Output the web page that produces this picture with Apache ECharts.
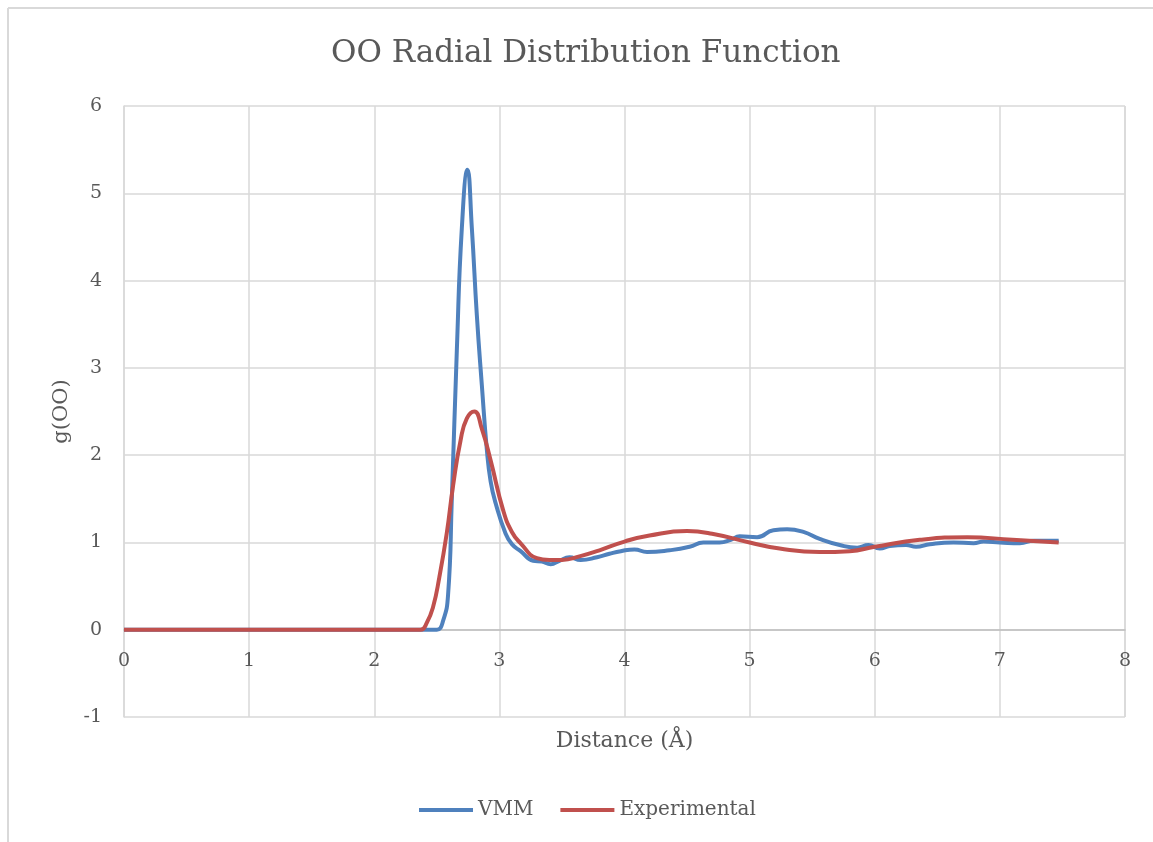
<!DOCTYPE html>
<html>
<head>
<meta charset="utf-8">
<script src="https://cdn.jsdelivr.net/npm/echarts@6/dist/echarts.min.js"></script>
<style>
  html, body { margin: 0; padding: 0; background: #fff; }
  #main { width: 1153px; height: 842px; }
</style>
</head>
<body>
<div id="main"></div>
<script>
// distance (Å) and g(OO)
var vmmX = [0, 1, 2, 2.40, 2.50, 2.55, 2.59, 2.62, 2.66, 2.70, 2.745, 2.78, 2.82, 2.86, 2.90, 2.93, 2.97, 3.05, 3.10, 3.17, 3.27, 3.34, 3.41, 3.48, 3.56, 3.65, 3.78, 3.88, 3.97, 4.08, 4.18, 4.36, 4.52, 4.63, 4.76, 4.85, 4.92, 5.06, 5.19, 5.30, 5.43, 5.56, 5.72, 5.86, 5.95, 6.04, 6.12, 6.25, 6.33, 6.44, 6.63, 6.79, 6.87, 7.00, 7.16, 7.27, 7.47];
var vmmY = [0, 0, 0, 0, 0, 0.10, 0.40, 1.50, 3.20, 4.60, 5.27, 4.60, 3.60, 2.80, 2.06, 1.70, 1.45, 1.10, 0.98, 0.90, 0.79, 0.78, 0.75, 0.79, 0.83, 0.80, 0.83, 0.87, 0.90, 0.92, 0.89, 0.91, 0.95, 1.00, 1.00, 1.03, 1.07, 1.06, 1.14, 1.15, 1.12, 1.04, 0.97, 0.94, 0.97, 0.93, 0.96, 0.97, 0.95, 0.98, 1.00, 0.99, 1.01, 1.00, 0.99, 1.02, 1.02];

var expX = [0, 1, 2, 2.37, 2.42, 2.47, 2.52, 2.58, 2.63, 2.69, 2.74, 2.80, 2.86, 2.93, 3.03, 3.10, 3.17, 3.30, 3.40, 3.50, 3.64, 3.80, 4.00, 4.20, 4.50, 4.70, 5.00, 5.24, 5.56, 5.80, 6.00, 6.36, 6.74, 7.10, 7.47];
var expY = [0, 0, 0, 0, 0.08, 0.26, 0.60, 1.11, 1.65, 2.17, 2.42, 2.50, 2.30, 1.94, 1.37, 1.12, 0.99, 0.82, 0.80, 0.80, 0.84, 0.91, 1.01, 1.08, 1.13, 1.10, 1.00, 0.93, 0.89, 0.90, 0.95, 1.03, 1.06, 1.03, 1.00];

var xTicks = [0, 1, 2, 3, 4, 5, 6, 7, 8];
var yTicks = [-1, 0, 1, 2, 3, 4, 5, 6];

function pairs(xs, ys) {
  var out = [];
  for (var i = 0; i < xs.length; i++) out.push([xs[i], ys[i]]);
  return out;
}

var font = "'DejaVu Serif', 'Liberation Serif', serif";
var grey = '#595959';
var myChart = echarts.init(document.getElementById('main'));

// x axis sits on y = 0, one unit above the bottom of the plot
var unitY = (842 - 106 - 125) / (yTicks[yTicks.length - 1] - yTicks[0]);

myChart.setOption({
  backgroundColor: '#fff',
  animation: false,
  textStyle: { fontFamily: font },
  title: {
    text: 'OO Radial Distribution Function',
    left: 326,
    top: 33,
    textStyle: { fontFamily: font, fontSize: 31, fontWeight: 'normal', color: grey }
  },
  legend: {
    bottom: 17,
    left: 414,
    itemWidth: 54,
    itemHeight: 4,
    itemGap: 27,
    icon: 'rect',
    textStyle: { fontFamily: font, fontSize: 20, color: grey },
    data: ['VMM', 'Experimental']
  },
  grid: { left: 124, right: 28, top: 106, bottom: 125 },
  xAxis: {
    type: 'value',
    min: xTicks[0],
    max: xTicks[xTicks.length - 1],
    interval: 1,
    offset: -unitY,
    name: 'Distance (Å)',
    nameLocation: 'middle',
    nameGap: 101,
    nameTextStyle: { fontFamily: font, fontSize: 22, color: grey },
    axisLine: { onZero: false, lineStyle: { color: '#bfbfbf', width: 1.5 } },
    axisTick: { show: false },
    axisLabel: { fontFamily: font, fontSize: 19, color: grey, margin: 22 },
    splitLine: { lineStyle: { color: '#d9d9d9', width: 1.5 } }
  },
  yAxis: {
    type: 'value',
    min: yTicks[0],
    max: yTicks[yTicks.length - 1],
    interval: 1,
    name: 'g(OO)',
    nameLocation: 'middle',
    nameGap: 52,
    nameTextStyle: { fontFamily: font, fontSize: 21, color: grey },
    axisLine: { show: true, lineStyle: { color: '#d9d9d9', width: 1.5 } },
    axisTick: { show: false },
    axisLabel: { fontFamily: font, fontSize: 19, color: grey, margin: 22 },
    splitLine: { lineStyle: { color: '#d9d9d9', width: 1.5 } }
  },
  graphic: [
    { type: 'line', shape: { x1: 8, y1: 8, x2: 1153, y2: 8 }, style: { stroke: '#d9d9d9', lineWidth: 2 } },
    { type: 'line', shape: { x1: 8, y1: 8, x2: 8, y2: 842 }, style: { stroke: '#d9d9d9', lineWidth: 2 } },
    { type: 'line', shape: { x1: 1125, y1: 106, x2: 1125, y2: 717 }, style: { stroke: '#d9d9d9', lineWidth: 1.5 } }
  ],
  series: [
    {
      name: 'VMM',
      type: 'line',
      data: pairs(vmmX, vmmY),
      smooth: 0.5,
      showSymbol: false,
      lineStyle: { color: '#4f81bd', width: 4 },
      itemStyle: { color: '#4f81bd' }
    },
    {
      name: 'Experimental',
      type: 'line',
      data: pairs(expX, expY),
      smooth: 0.5,
      showSymbol: false,
      lineStyle: { color: '#c0504d', width: 4 },
      itemStyle: { color: '#c0504d' }
    }
  ]
});
</script>
</body>
</html>
